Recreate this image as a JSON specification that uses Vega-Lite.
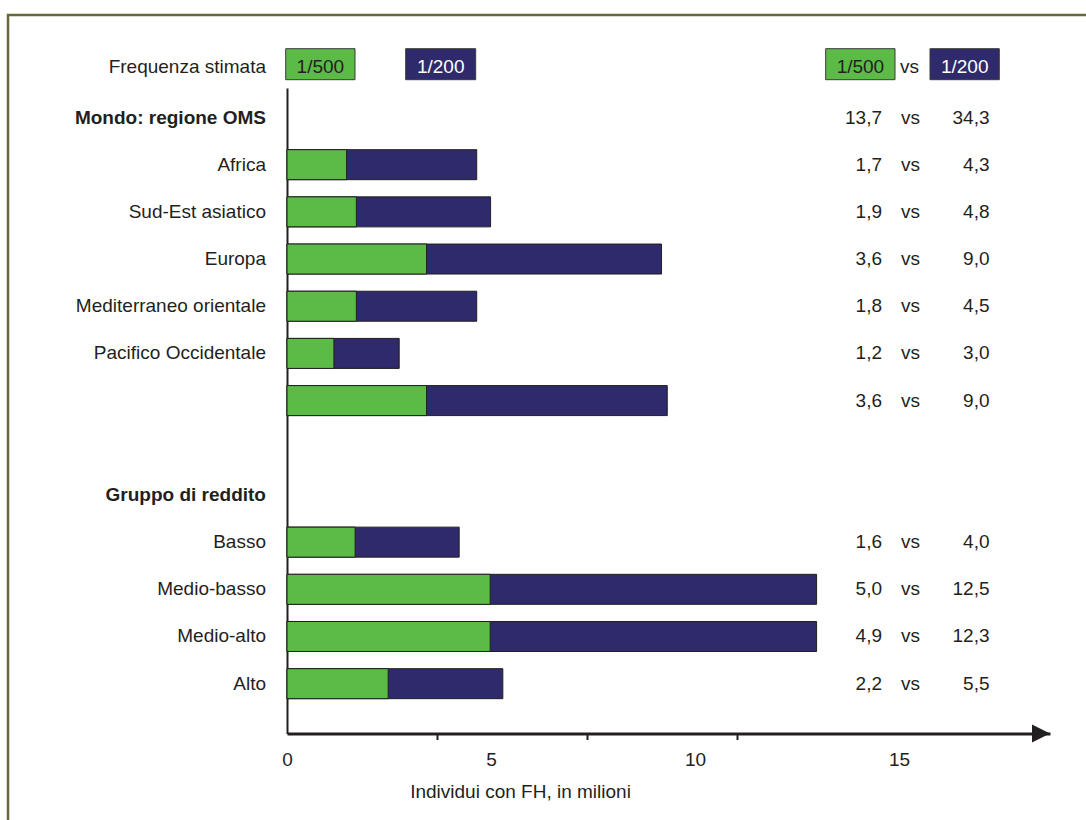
{
  "$schema": "https://vega.github.io/schema/vega-lite/v6.json",
  "autosize": {"type": "none"},
  "width": 763,
  "height": 645.5,
  "padding": {"left": 287, "top": 88, "right": 36, "bottom": 86.5},
  "background": "white",
  "config": {
    "view": {"stroke": null},
    "font": "Liberation Sans",
    "text": {"font": "Liberation Sans", "fontSize": 19, "color": "#231f20"}
  },
  "datasets": {
    "righe": [
      {"r": 1, "etichetta": "Mondo: regione OMS", "tipo": "gruppo", "t500": "13,7", "t200": "34,3"},
      {"r": 2, "etichetta": "Africa", "tipo": "voce", "f500": 1.46, "f200": 4.65, "t500": "1,7", "t200": "4,3"},
      {"r": 3, "etichetta": "Sud-Est asiatico", "tipo": "voce", "f500": 1.70, "f200": 4.99, "t500": "1,9", "t200": "4,8"},
      {"r": 4, "etichetta": "Europa", "tipo": "voce", "f500": 3.42, "f200": 9.18, "t500": "3,6", "t200": "9,0"},
      {"r": 5, "etichetta": "Mediterraneo orientale", "tipo": "voce", "f500": 1.70, "f200": 4.65, "t500": "1,8", "t200": "4,5"},
      {"r": 6, "etichetta": "Pacifico Occidentale", "tipo": "voce", "f500": 1.15, "f200": 2.75, "t500": "1,2", "t200": "3,0"},
      {"r": 7, "etichetta": "", "tipo": "voce", "f500": 3.42, "f200": 9.32, "t500": "3,6", "t200": "9,0"},
      {"r": 9, "etichetta": "Gruppo di reddito", "tipo": "gruppo"},
      {"r": 10, "etichetta": "Basso", "tipo": "voce", "f500": 1.67, "f200": 4.22, "t500": "1,6", "t200": "4,0"},
      {"r": 11, "etichetta": "Medio-basso", "tipo": "voce", "f500": 4.98, "f200": 12.98, "t500": "5,0", "t200": "12,5"},
      {"r": 12, "etichetta": "Medio-alto", "tipo": "voce", "f500": 4.98, "f200": 12.98, "t500": "4,9", "t200": "12,3"},
      {"r": 13, "etichetta": "Alto", "tipo": "voce", "f500": 2.48, "f200": 5.29, "t500": "2,2", "t200": "5,5"}
    ]
  },
  "layer": [
    {
      "data": {"name": "righe"},
      "transform": [{"filter": "datum.f200 != null"}],
      "mark": {"type": "bar", "height": 30, "fill": "#2e2a6c", "stroke": "#231f20", "strokeWidth": 1},
      "encoding": {
        "x": {"field": "f200", "type": "quantitative",
          "scale": {"domain": [0, 18.701], "nice": false, "zero": false, "padding": 0},
          "axis": {
            "title": "Individui con FH, in milioni",
            "values": [0, 3.676, 5, 7.353, 10, 11.029, 15],
            "labelExpr": "datum.value % 5 === 0 ? datum.label : ''",
            "domain": true,
            "domainColor": "#231f20",
            "domainWidth": 3,
            "grid": false,
            "ticks": true,
            "tickSize": 6,
            "tickWidth": 2,
            "tickColor": "#231f20",
            "tickOpacity": {"condition": {"test": "datum.value % 5 === 0", "value": 0}, "value": 1},
            "labelFont": "Liberation Sans",
            "labelFontSize": 19,
            "labelColor": "#231f20",
            "labelPadding": 11,
            "labelFlush": false,
            "labelOverlap": false,
            "titleFont": "Liberation Sans",
            "titleFontSize": 19,
            "titleFontWeight": "normal",
            "titleColor": "#231f20",
            "titlePadding": 13,
            "titleX": 233
          }
        },
        "x2": {"datum": 0},
        "y": {"field": "r", "type": "quantitative",
          "scale": {"domain": [0.3747, 14.056], "reverse": true, "nice": false, "zero": false, "padding": 0},
          "axis": {"domain": true, "domainColor": "#231f20", "domainWidth": 2, "ticks": false, "labels": false, "grid": false, "title": null}}
      }
    },
    {
      "data": {"name": "righe"},
      "transform": [{"filter": "datum.f500 != null"}],
      "mark": {"type": "bar", "height": 30, "fill": "#5cba47", "stroke": "#231f20", "strokeWidth": 1},
      "encoding": {
        "x": {"field": "f500", "type": "quantitative"},
        "x2": {"datum": 0},
        "y": {"field": "r", "type": "quantitative"}
      }
    },
    {
      "data": {"name": "righe"},
      "transform": [{"filter": "datum.tipo === 'voce'"}],
      "mark": {"type": "text", "align": "right"},
      "encoding": {
        "x": {"datum": -0.515, "type": "quantitative"},
        "y": {"field": "r", "type": "quantitative"},
        "text": {"field": "etichetta"}
      }
    },
    {
      "data": {"name": "righe"},
      "transform": [{"filter": "datum.tipo === 'gruppo'"}],
      "mark": {"type": "text", "align": "right", "fontWeight": "bold"},
      "encoding": {
        "x": {"datum": -0.515, "type": "quantitative"},
        "y": {"field": "r", "type": "quantitative"},
        "text": {"field": "etichetta"}
      }
    },
    {
      "data": {"name": "righe"},
      "transform": [{"filter": "datum.t500 != null"}],
      "mark": {"type": "text", "align": "right"},
      "encoding": {
        "x": {"datum": 14.583, "type": "quantitative"},
        "y": {"field": "r", "type": "quantitative"},
        "text": {"field": "t500"}
      }
    },
    {
      "data": {"name": "righe"},
      "transform": [{"filter": "datum.t500 != null"}],
      "mark": {"type": "text", "align": "center"},
      "encoding": {
        "x": {"datum": 15.282, "type": "quantitative"},
        "y": {"field": "r", "type": "quantitative"},
        "text": {"value": "vs"}
      }
    },
    {
      "data": {"name": "righe"},
      "transform": [{"filter": "datum.t200 != null"}],
      "mark": {"type": "text", "align": "right"},
      "encoding": {
        "x": {"datum": 17.218, "type": "quantitative"},
        "y": {"field": "r", "type": "quantitative"},
        "text": {"field": "t200"}
      }
    },
    {
      "data": {"values": [{"etichetta": "Frequenza stimata"}]},
      "mark": {"type": "text", "align": "right"},
      "encoding": {
        "x": {"datum": -0.515, "type": "quantitative"},
        "y": {"datum": -0.064, "type": "quantitative"},
        "text": {"field": "etichetta"}
      }
    },
    {
      "data": {"values": [{"freq": "1/500"}]},
      "mark": {"type": "bar", "height": 31, "fill": "#5cba47", "stroke": "#3a3a3a", "strokeWidth": 1},
      "encoding": {
        "x": {"datum": -0.032, "type": "quantitative"},
        "x2": {"datum": 1.667},
        "y": {"datum": -0.13, "type": "quantitative"}
      }
    },
    {
      "data": {"values": [{"freq": "1/200"}]},
      "mark": {"type": "bar", "height": 31, "fill": "#2e2a6c", "stroke": "#3a3a3a", "strokeWidth": 1},
      "encoding": {
        "x": {"datum": 2.909, "type": "quantitative"},
        "x2": {"datum": 4.625},
        "y": {"datum": -0.13, "type": "quantitative"}
      }
    },
    {
      "data": {"values": [{"freq": "1/500"}]},
      "mark": {"type": "bar", "height": 31, "fill": "#5cba47", "stroke": "#3a3a3a", "strokeWidth": 1},
      "encoding": {
        "x": {"datum": 13.203, "type": "quantitative"},
        "x2": {"datum": 14.902},
        "y": {"datum": -0.13, "type": "quantitative"}
      }
    },
    {
      "data": {"values": [{"freq": "1/200"}]},
      "mark": {"type": "bar", "height": 31, "fill": "#2e2a6c", "stroke": "#3a3a3a", "strokeWidth": 1},
      "encoding": {
        "x": {"datum": 15.76, "type": "quantitative"},
        "x2": {"datum": 17.458},
        "y": {"datum": -0.13, "type": "quantitative"}
      }
    },
    {
      "data": {"values": [{"freq": "1/500"}]},
      "mark": {"type": "text", "align": "center", "color": "#231f20"},
      "encoding": {
        "x": {"datum": 0.818, "type": "quantitative"},
        "y": {"datum": -0.064, "type": "quantitative"},
        "text": {"field": "freq"}
      }
    },
    {
      "data": {"values": [{"freq": "1/200"}]},
      "mark": {"type": "text", "align": "center", "color": "#ffffff"},
      "encoding": {
        "x": {"datum": 3.767, "type": "quantitative"},
        "y": {"datum": -0.064, "type": "quantitative"},
        "text": {"field": "freq"}
      }
    },
    {
      "data": {"values": [{"freq": "1/500"}]},
      "mark": {"type": "text", "align": "center", "color": "#231f20"},
      "encoding": {
        "x": {"datum": 14.054, "type": "quantitative"},
        "y": {"datum": -0.064, "type": "quantitative"},
        "text": {"field": "freq"}
      }
    },
    {
      "data": {"values": [{"freq": "vs"}]},
      "mark": {"type": "text", "align": "center", "color": "#231f20"},
      "encoding": {
        "x": {"datum": 15.257, "type": "quantitative"},
        "y": {"datum": -0.064, "type": "quantitative"},
        "text": {"field": "freq"}
      }
    },
    {
      "data": {"values": [{"freq": "1/200"}]},
      "mark": {"type": "text", "align": "center", "color": "#ffffff"},
      "encoding": {
        "x": {"datum": 16.61, "type": "quantitative"},
        "y": {"datum": -0.064, "type": "quantitative"},
        "text": {"field": "freq"}
      }
    },
    {
      "data": {"values": [{}]},
      "mark": {"type": "point", "shape": "M-1,-1L1,0L-1,1Z", "size": 324, "filled": true, "color": "#231f20", "opacity": 1},
      "encoding": {
        "x": {"datum": 18.48, "type": "quantitative"},
        "y": {"datum": 14.056, "type": "quantitative"}
      }
    },
    {
      "data": {"values": [{}]},
      "mark": {"type": "rect", "fill": null, "fillOpacity": 0, "stroke": "#68673c", "strokeWidth": 2.5},
      "encoding": {
        "x": {"datum": -6.838, "type": "quantitative"},
        "x2": {"datum": 22},
        "y": {"datum": -1.1726, "type": "quantitative"},
        "y2": {"datum": 17}
      }
    }
  ]
}
